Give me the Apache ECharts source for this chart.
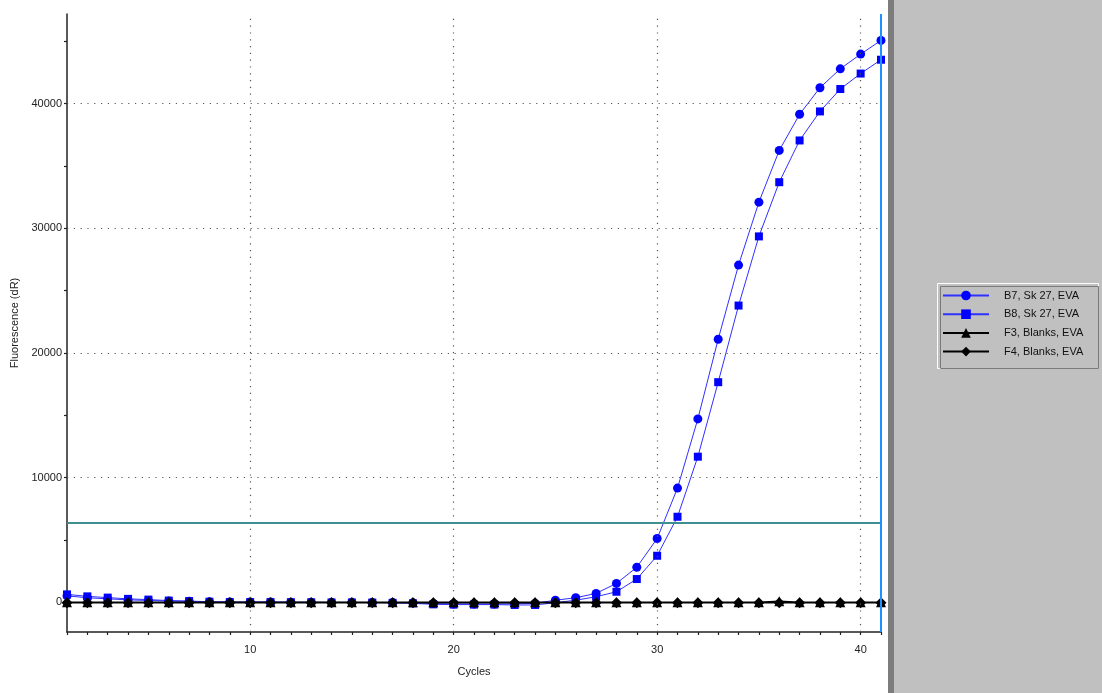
<!DOCTYPE html>
<html>
<head>
<meta charset="utf-8">
<script src="https://cdn.jsdelivr.net/npm/echarts@6/dist/echarts.min.js"></script>
<style>
html,body{margin:0;padding:0;background:#fff;}
#chart{width:1102px;height:693px;}
</style>
</head>
<body>
<div id="chart"></div>
<script>
// ---- data ----
const cycles = [1,2,3,4,5,6,7,8,9,10,11,12,13,14,15,16,17,18,19,20,21,22,23,24,25,26,27,28,29,30,31,32,33,34,35,36,37,38,39,40,41];
const seriesNames = ['B7, Sk 27, EVA', 'B8, Sk 27, EVA', 'F3, Blanks, EVA', 'F4, Blanks, EVA'];
const b7 = [500,350,260,180,130,90,60,20,0,0,0,-10,-10,-20,-20,-30,-40,-60,-120,-150,-150,-150,-140,-100,150,350,700,1500,2800,5100,9150,14700,21100,27050,32100,36250,39150,41280,42800,43980,45080];
const b8 = [620,460,360,260,200,120,80,30,0,0,0,-10,-20,-30,-30,-40,-60,-100,-180,-200,-200,-200,-230,-230,-50,150,430,830,1850,3720,6850,11670,17650,23800,29350,33700,37050,39380,41180,42420,43530];
const f3 = [-20,-20,-20,-20,-20,-20,-20,-20,-20,-20,-20,-20,-20,-20,-20,-20,-20,-20,-20,-20,-20,-20,-20,-20,-20,-20,-20,-20,-20,-20,-20,-20,-20,-20,-20,60,-20,-20,-20,-20,-20];
const f4 = [-60,-60,-60,-60,-60,-60,-60,-60,-60,-60,-60,-60,-60,-60,-60,-60,-60,-60,-60,-60,-60,-60,-60,-60,-60,-60,-60,-60,-60,-60,-60,-60,-60,-60,-60,-60,-60,-60,-60,-60,-60];
const yLabelValues = [0,10000,20000,30000,40000];
const yTickValues = [0,5000,10000,15000,20000,25000,30000,35000,40000,45000];
const xLabelValues = [10,20,30,40];
const yGridValues = [10000,20000,30000,40000];
const xGridValues = [10,20,30,40];
const threshold = 6400;
const endCycle = 41;

const pair = arr => cycles.map((c,i)=>[c,arr[i]]);
const FONT = 'Liberation Sans';

const chart = echarts.init(document.getElementById('chart'), null, {renderer:'canvas'});
const dotted = {color:'#555', width:1.2, type:[1.2,5.6]};

chart.setOption({
  animation:false,
  backgroundColor:'#fff',
  textStyle:{fontFamily:FONT},
  grid:{left:67, top:14, right:221, bottom:61, containLabel:false},
  xAxis:{
    type:'value', min:1, max:41, interval:1,
    name:'Cycles', nameLocation:'middle', nameGap:34,
    nameTextStyle:{color:'#222', fontSize:11, fontFamily:FONT},
    axisLine:{show:true, onZero:false, lineStyle:{color:'#222', width:1.5}},
    axisTick:{show:true, length:3, lineStyle:{color:'#222', width:1.2}},
    axisLabel:{color:'#222', fontSize:11, fontFamily:FONT, margin:12,
      formatter: v => xLabelValues.includes(v) ? String(v) : ''},
    splitLine:{show:false}
  },
  yAxis:{
    type:'value', min:-2400, max:47200,
    name:'Fluorescence (dR)', nameLocation:'middle', nameGap:45, nameRotate:90,
    nameTextStyle:{color:'#222', fontSize:11, fontFamily:FONT},
    axisLine:{show:true, onZero:false, lineStyle:{color:'#222', width:1.5}},
    axisTick:{show:true, length:3, customValues:yTickValues, lineStyle:{color:'#222', width:1.2}},
    axisLabel:{color:'#222', fontSize:11, fontFamily:FONT, margin:5, customValues:yLabelValues,
      formatter: v => String(v)},
    splitLine:{show:false}
  },
  legend:{
    data:seriesNames,
    orient:'vertical', left:942, top:290,
    padding:0,
    itemWidth:46, itemHeight:12, itemGap:7.7,
    textStyle:{color:'#111', fontSize:11, fontFamily:FONT, padding:[0,0,0,10]}
  },
  graphic:[
    {type:'rect', left:888, top:0, shape:{width:214, height:693}, style:{fill:'#c0c0c0'}, z:-1, silent:true},
    {type:'rect', left:888, top:0, shape:{width:6, height:693}, style:{fill:'#7d7d7d'}, z:-1, silent:true},
    {type:'rect', left:937, top:283, shape:{width:161, height:85}, style:{fill:'#c0c0c0', stroke:'#ffffff', lineWidth:1}, z:-1, silent:true},
    {type:'rect', left:938, top:284, shape:{width:158, height:82}, style:{fill:'none', stroke:'#7a7a7a', lineWidth:1}, z:-1, silent:true}
  ],
  series:[
    {
      type:'line', data:[], silent:true, z:1,
      markLine:{
        silent:true, symbol:'none', animation:false, label:{show:false},
        data:[
          ...yGridValues.map(v=>({yAxis:v, lineStyle:dotted})),
          ...xGridValues.map(v=>({xAxis:v, lineStyle:dotted})),
          {yAxis:threshold, lineStyle:{color:'#3f8f92', width:2, type:'solid'}},
          {xAxis:endCycle, lineStyle:{color:'#1e90ff', width:2, type:'solid'}}
        ]
      }
    },
    {name:seriesNames[0], type:'line', data:pair(b7), symbol:'circle', symbolSize:9,
     itemStyle:{color:'#0000ff'}, lineStyle:{color:'#3030ff', width:1}, z:3},
    {name:seriesNames[1], type:'line', data:pair(b8), symbol:'rect', symbolSize:8,
     itemStyle:{color:'#0000ff'}, lineStyle:{color:'#3030ff', width:1}, z:3},
    {name:seriesNames[2], type:'line', data:pair(f3), symbol:'triangle', symbolSize:10,
     itemStyle:{color:'#000'}, lineStyle:{color:'#000', width:1.5}, z:4},
    {name:seriesNames[3], type:'line', data:pair(f4), symbol:'diamond', symbolSize:11,
     itemStyle:{color:'#000'}, lineStyle:{color:'#000', width:1.5}, z:4}
  ]
});
</script>
</body>
</html>
